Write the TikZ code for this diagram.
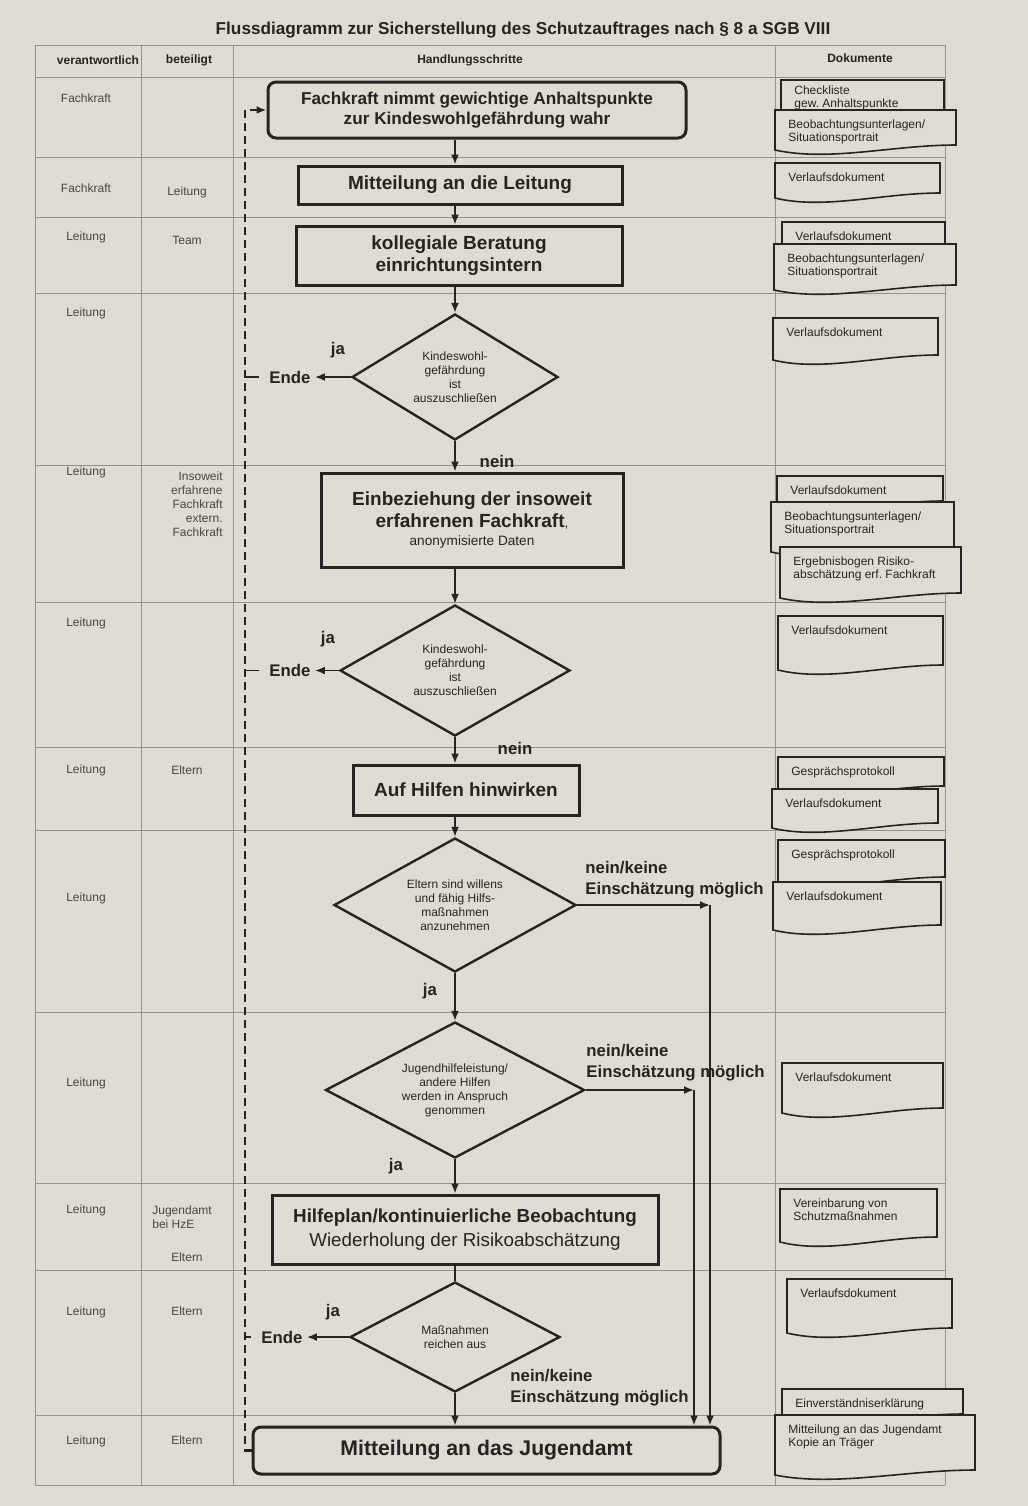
\documentclass[tikz,border=0pt]{standalone}
\usepackage{fontspec}
\setmainfont{Liberation Sans}
\usetikzlibrary{arrows.meta,shapes.geometric}

\definecolor{papier}{RGB}{224,219,210}
\definecolor{tinte}{RGB}{38,36,34}
\definecolor{rasterfarbe}{RGB}{150,145,138}

\newcommand{\titelfont}{\fontsize{8.6}{10}\selectfont\bfseries}
\newcommand{\kopffont}{\fontsize{6}{7}\selectfont\bfseries}
\newcommand{\spaltenfont}{\fontsize{6}{7}\selectfont}
\newcommand{\schrittfont}{\fontsize{9.5}{11}\selectfont\bfseries}
\newcommand{\frageschrift}{\fontsize{6}{7}\selectfont}
\newcommand{\dokfont}{\fontsize{6}{6.8}\selectfont}
\newcommand{\markenfont}{\fontsize{8.4}{10.5}\selectfont\bfseries}

\tikzset{
    schritt/.style={draw=tinte, line width=1.5pt, align=center, text=tinte, font=\schrittfont, inner sep=2pt},
    frage/.style={draw=tinte, diamond, aspect=1.7, line width=1.2pt, align=center, text=tinte, font=\frageschrift, inner sep=0pt},
    fluss/.style={draw=tinte, line width=0.9pt, -{Latex[length=5pt,width=4pt]}},
    linie/.style={draw=tinte, line width=0.9pt},
    ruecklauf/.style={draw=tinte, line width=1.2pt, dash pattern=on 4pt off 2.5pt, -{Latex[length=5pt,width=4pt]}},
    marke/.style={font=\markenfont, text=tinte, inner sep=2pt},
    spalte/.style={font=\spaltenfont, text=tinte!85, align=center, inner sep=1pt},
    kopf/.style={font=\kopffont, text=tinte, inner sep=1pt},
    raster/.style={draw=rasterfarbe, line width=0.5pt},
    dokrand/.style={draw=tinte, fill=papier, line width=0.8pt},
    doktext/.style={anchor=north west, align=left, font=\dokfont, text=tinte, inner sep=0pt},
}

% Dokument-Symbol: [Textabstand]{Name}{x}{y}{Breite}{Hoehe}{Text}
\newcommand{\dokument}[7][9]{%
    \draw[dokrand] (#3,#4) -- ++(#5,0) -- ++(0,#6-5)
        .. controls +(-0.35*#5,0) and +(0.3*#5,12) .. (#3,#4+#6) -- cycle;
    \node[doktext] (#2) at (#3+13,#4+#1) {#7};
}

\begin{document}
\begin{tikzpicture}[x=0.5pt, y=-0.5pt]
    % Papier
    \fill[papier] (0,0) rectangle (1028,1506);

    % Titel
    \node[font=\titelfont, text=tinte] (titel) at (523,30) {Flussdiagramm zur Sicherstellung des Schutzauftrages nach § 8 a SGB VIII};

    % Tabelle
    \foreach \y in {45,77,157,217,293,465,602,747,830,1012,1183,1270,1415,1485}
        \draw[raster] (35,\y) -- (945,\y);
    \foreach \x in {35,141,233,775,945}
        \draw[raster] (\x,45) -- (\x,1485);

    % Kopfzeile
    \node[kopf] (kVerantwortlich) at (98,60) {verantwortlich};
    \node[kopf] (kBeteiligt) at (189,60) {beteiligt};
    \node[kopf] (kSchritte) at (470,60) {Handlungsschritte};
    \node[kopf] (kDokumente) at (860,58) {Dokumente};

    % verantwortlich
    \foreach \y/\wer in {98/Fachkraft, 188/Fachkraft, 237/Leitung, 313/Leitung, 472/Leitung, 623/Leitung, 770/Leitung, 898/Leitung, 1083/Leitung, 1210/Leitung, 1312/Leitung, 1441/Leitung}
        \node[spalte] (v\y) at (86,\y) {\wer};

    % beteiligt
    \foreach \y/\wer in {192/Leitung, 240/Team, 770/Eltern, 1257/Eltern, 1311/Eltern, 1440/Eltern}
        \node[spalte] (b\y) at (187,\y) {\wer};
    \node[spalte, anchor=east, align=right] (bInsoweit) at (225,504) {Insoweit\\erfahrene\\Fachkraft\\extern.\\Fachkraft};
    \node[spalte, anchor=west, align=left] (bJugendamt) at (150,1217) {Jugendamt\\bei HzE};

    % Handlungsschritte
    \node[schritt, rounded corners=4pt, minimum width=209pt, minimum height=28pt, font=\fontsize{8.6}{9.6}\selectfont\bfseries] (wahrnehmung) at (477,110) {Fachkraft nimmt gewichtige Anhaltspunkte\\zur Kindeswohlgefährdung wahr};
    \node[schritt, minimum width=162pt, minimum height=19pt] (mitteilung) at (460,185) {Mitteilung an die Leitung};
    \node[schritt, minimum width=163pt, minimum height=29.5pt] (beratung) at (459,255.5) {kollegiale Beratung\\einrichtungsintern};
    \node[frage, minimum width=103pt, minimum height=63pt] (pruefung1) at (455,377) {Kindeswohl-\\gefährdung\\ist\\auszuschließen};
    \node[schritt, minimum width=151pt, minimum height=47pt] (einbeziehung) at (472,520) {Einbeziehung der insoweit\\erfahrenen Fachkraft{\mdseries\fontsize{6.8}{8}\selectfont,}\\[-2pt]{\mdseries\fontsize{6.8}{8}\selectfont anonymisierte Daten}};
    \node[frage, minimum width=115pt, minimum height=65.5pt] (pruefung2) at (455,670.5) {Kindeswohl-\\gefährdung\\ist\\auszuschließen};
    \node[schritt, minimum width=113pt, minimum height=25pt] (hinwirken) at (466,790) {Auf Hilfen hinwirken};
    \node[frage, minimum width=121pt, minimum height=67pt] (bereitschaft) at (455,905) {Eltern sind willens\\und fähig Hilfs-\\maßnahmen\\anzunehmen};
    \node[frage, minimum width=129.5pt, minimum height=68pt] (annahme) at (455,1090) {Jugendhilfeleistung/\\andere Hilfen\\werden in Anspruch\\genommen};
    \node[schritt, minimum width=193pt, minimum height=34.5pt, font=\fontsize{9.4}{12}\selectfont\bfseries] (hilfeplan) at (465,1229.5) {Hilfeplan/kontinuierliche Beobachtung\\{\mdseries Wiederholung der Risikoabschätzung}};
    \node[frage, minimum width=105pt, minimum height=55pt] (ausreichend) at (455,1337) {Maßnahmen\\reichen aus};
    \node[schritt, rounded corners=4pt, minimum width=233.5pt, minimum height=23.5pt, font=\fontsize{10.6}{12}\selectfont\bfseries] (jugendamt) at (486.5,1450.5) {Mitteilung an das Jugendamt};

    % Ende
    \node[marke] (ende1) at (290,377) {Ende};
    \node[marke] (ende2) at (290,670.5) {Ende};
    \node[marke] (ende3) at (282,1337) {Ende};

    % Beschriftungen
    \node[marke] (ja1) at (338,350) {ja};
    \node[marke] (nein1) at (497,461) {nein};
    \node[marke] (ja2) at (328,639) {ja};
    \node[marke] (nein2) at (515,748) {nein};
    \node[marke] (ja3) at (430,991) {ja};
    \node[marke] (ja4) at (396,1166) {ja};
    \node[marke] (ja5) at (333,1312) {ja};
    \node[marke, anchor=west, align=left] (keine3) at (581,880) {nein/keine\\Einschätzung möglich};
    \node[marke, anchor=west, align=left] (keine4) at (582,1063) {nein/keine\\Einschätzung möglich};
    \node[marke, anchor=west, align=left] (keine5) at (506,1388) {nein/keine\\Einschätzung möglich};

    % Verbindungen
    \draw[fluss] (wahrnehmung.south -| pruefung1) -- (mitteilung.north -| pruefung1);
    \draw[fluss] (mitteilung.south -| pruefung1) -- (beratung.north -| pruefung1);
    \draw[fluss] (beratung.south -| pruefung1) -- (pruefung1.north);
    \draw[fluss] (pruefung1.south) -- (einbeziehung.north -| pruefung1);
    \draw[fluss] (einbeziehung.south -| pruefung2) -- (pruefung2.north);
    \draw[fluss] (pruefung2.south) -- (hinwirken.north -| pruefung2);
    \draw[fluss] (hinwirken.south -| bereitschaft) -- (bereitschaft.north);
    \draw[fluss] (bereitschaft.south) -- (annahme.north);
    \draw[fluss] (annahme.south) -- (hilfeplan.north -| annahme);
    \draw[linie] (hilfeplan.south -| ausreichend) -- (ausreichend.north);
    \draw[fluss] (ausreichend.south) -- (jugendamt.north -| ausreichend);
    \draw[fluss] (pruefung1.west) -- (ende1.east);
    \draw[fluss] (pruefung2.west) -- (ende2.east);
    \draw[fluss] (ausreichend.west) -- (ende3.east);

    % nein/keine Einschaetzung moeglich
    \coordinate (weg1) at (710,905);
    \coordinate (weg2) at (694,1090);
    \draw[fluss] (bereitschaft.east) -- (weg1);
    \draw[fluss] (weg1) -- (jugendamt.north -| weg1);
    \draw[fluss] (annahme.east) -- (weg2);
    \draw[fluss] (weg2) -- (jugendamt.north -| weg2);

    % Ruecklauf
    \coordinate (rueck) at (245,0);
    \draw[ruecklauf] (jugendamt.west) -- (jugendamt.west -| rueck) |- (wahrnehmung.west);
    \draw[linie, shorten >=3pt] (ende1.west -| rueck) -- (ende1.west);
    \draw[linie, shorten >=3pt] (ende2.west -| rueck) -- (ende2.west);
    \draw[linie, shorten >=3pt] (ende3.west -| rueck) -- (ende3.west);

    % Dokumente
    \dokument[5]{dCheckliste}{781}{80}{163}{38}{Checkliste\\gew.\ Anhaltspunkte}
    \dokument{dBeobachtung1}{775}{110}{181}{40}{Beobachtungsunterlagen/\\Situationsportrait}
    \dokument{dVerlauf2}{775}{163}{165}{35}{Verlaufsdokument}
    \dokument{dVerlauf3}{782}{222}{163}{30}{Verlaufsdokument}
    \dokument{dBeobachtung3}{774}{244}{182}{46}{Beobachtungsunterlagen/\\Situationsportrait}
    \dokument{dVerlauf4}{773}{318}{165}{42}{Verlaufsdokument}
    \dokument{dVerlauf5}{777}{476}{166}{30}{Verlaufsdokument}
    \dokument{dBeobachtung5}{771}{502}{183}{50}{Beobachtungsunterlagen/\\Situationsportrait}
    \dokument{dErgebnis}{780}{547}{181}{51}{Ergebnisbogen Risiko-\\abschätzung erf.\ Fachkraft}
    \dokument{dVerlauf6}{778}{616}{165}{54}{Verlaufsdokument}
    \dokument{dGespraech7}{778}{757}{166}{34}{Gesprächsprotokoll}
    \dokument{dVerlauf7}{772}{789}{166}{39}{Verlaufsdokument}
    \dokument{dGespraech8}{778}{840}{167}{42}{Gesprächsprotokoll}
    \dokument{dVerlauf8}{773}{882}{168}{48}{Verlaufsdokument}
    \dokument{dVerlauf9}{782}{1063}{161}{50}{Verlaufsdokument}
    \dokument{dVereinbarung}{780}{1189}{157}{53}{Vereinbarung von\\Schutzmaßnahmen}
    \dokument{dVerlauf11}{787}{1279}{165}{54}{Verlaufsdokument}
    \dokument{dEinverstaendnis}{782}{1389}{181}{30}{Einverständniserklärung}
    \dokument{dMitteilung}{775}{1415}{200}{60}{Mitteilung an das Jugendamt\\Kopie an Träger}
\end{tikzpicture}
\end{document}
